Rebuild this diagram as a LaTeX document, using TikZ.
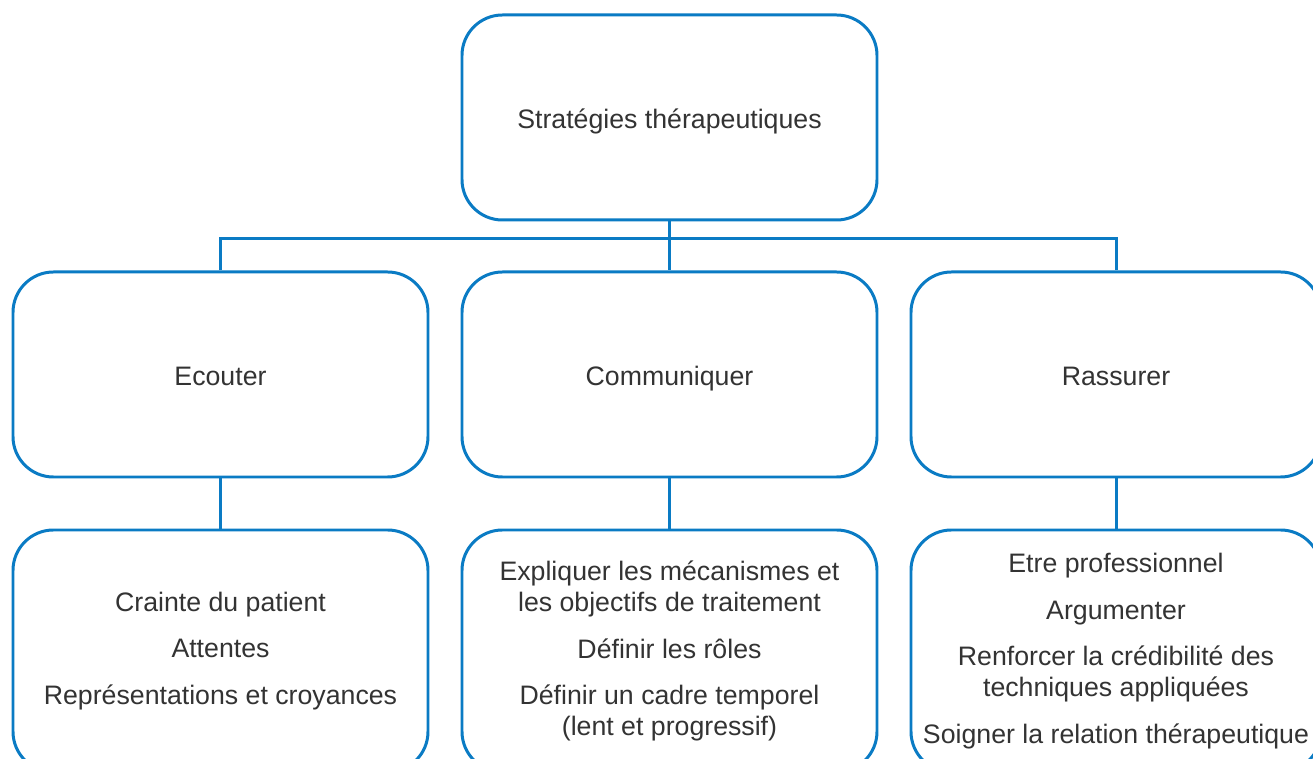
\documentclass[tikz,border=0pt]{standalone}
\usepackage{fontspec}
\setmainfont{Liberation Sans}
\definecolor{lineblue}{HTML}{0A7BC4}
\definecolor{txtgray}{HTML}{333333}
\begin{document}
\begin{tikzpicture}[x=0.02cm,y=-0.02cm,
  box/.style={draw=lineblue, line width=1.7pt, rounded corners=23pt, minimum width=415*0.02cm, align=center,
    text=txtgray, font=\fontsize{15.2}{17.6}\selectfont, inner sep=0pt},
  lvlbox/.style={box, minimum height=205*0.02cm, text height=12pt, text depth=0pt},
  leafbox/.style={box, minimum height=242*0.02cm},
  link/.style={draw=lineblue, line width=1.7pt}]
\clip (0,0) rectangle (1313,759);
\fill[white] (0,0) rectangle (1313,759);
\node[lvlbox] (top) at (669.5,117.5) {Stratégies thérapeutiques};
\node[lvlbox] (ec) at (220.5,374.5) {Ecouter};
\node[lvlbox] (co) at (669.5,374.5) {Communiquer};
\node[lvlbox, minimum width=410*0.02cm] (ra) at (1116,374.5) {Rassurer};
\node[leafbox] (ecl) at (220.5,651) {Crainte du patient\\[9pt]Attentes\\[9pt]Représentations et croyances};
\node[leafbox] (col) at (669.5,651) {Expliquer les mécanismes et\\les objectifs de traitement\\[9pt]Définir les rôles\\[9pt]Définir un cadre temporel\\(lent et progressif)};
\node[leafbox, minimum width=410*0.02cm] (ral) at (1116,651) {Etre professionnel\\[9pt]Argumenter\\[9pt]Renforcer la crédibilité des\\techniques appliquées\\[9pt]Soigner la relation thérapeutique};
\draw[link] (top.south) -- (co.north);
\draw[link] (ec.north) -- ++(0,-32) -| (ra.north);
\draw[link] (ec.south) -- (ecl.north);
\draw[link] (co.south) -- (col.north);
\draw[link] (ra.south) -- (ral.north);
\end{tikzpicture}
\end{document}
